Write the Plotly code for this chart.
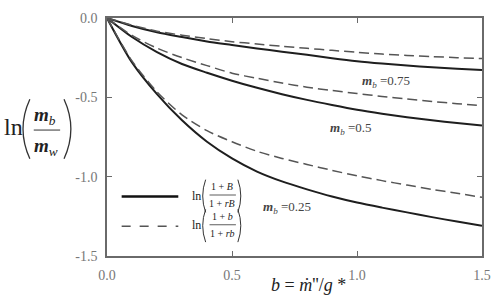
import plotly.graph_objects as go

# ---- data ----
b_vals = [0.0, 0.1, 0.2, 0.3, 0.4, 0.5, 0.6, 0.7, 0.8, 0.9, 1.0, 1.1, 1.2, 1.3, 1.4, 1.5]

solid_075 = [0.0, -0.05, -0.09, -0.12, -0.148, -0.17, -0.192, -0.212, -0.232, -0.253, -0.272, -0.287, -0.300, -0.311, -0.320, -0.328]
dashed_075 = [0.0, -0.045, -0.083, -0.108, -0.13, -0.149, -0.164, -0.178, -0.191, -0.204, -0.216, -0.227, -0.236, -0.243, -0.250, -0.256]

solid_050 = [0.0, -0.12, -0.215, -0.29, -0.345, -0.395, -0.44, -0.48, -0.516, -0.548, -0.578, -0.603, -0.625, -0.645, -0.662, -0.678]
dashed_050 = [0.0, -0.11, -0.19, -0.25, -0.30, -0.348, -0.38, -0.41, -0.436, -0.457, -0.476, -0.494, -0.511, -0.526, -0.540, -0.553]

solid_025 = [0.0, -0.28, -0.48, -0.645, -0.78, -0.885, -0.968, -1.03, -1.08, -1.125, -1.163, -1.195, -1.225, -1.255, -1.283, -1.31]
dashed_025 = [0.0, -0.27, -0.465, -0.61, -0.71, -0.78, -0.84, -0.885, -0.923, -0.96, -0.995, -1.025, -1.053, -1.08, -1.105, -1.13]

x_ticks = [0.0, 0.5, 1.0, 1.5]
x_tick_text = ["0.0", "0.5", "1.0", "1.5"]
y_ticks = [0.0, -0.5, -1.0, -1.5]
y_tick_text = ["0.0", "-0.5", "-1.0", "-1.5"]

curve_labels = ["=0.75", "=0.5", "=0.25"]

# ---- layout geometry (pixels) ----
W, H = 502, 298
L, R, T, B = 107, 11, 16, 42
PW, PH = W - L - R, H - T - B


def px(x):
    return (x - L) / PW


def py(y):
    return (H - B - y) / PH


SERIF = "Liberation Serif, DejaVu Serif, Times New Roman, serif"
SOLID_C = "#1e1e1e"
DASH_C = "#555555"
AX_C = "#6a6a6a"

fig = go.Figure()

for ys in [solid_075, solid_050, solid_025]:
    fig.add_trace(go.Scatter(x=b_vals, y=ys, mode="lines",
                             line=dict(color=SOLID_C, width=2, shape="spline", smoothing=0.8),
                             showlegend=False, hoverinfo="skip"))
for ys in [dashed_075, dashed_050, dashed_025]:
    fig.add_trace(go.Scatter(x=b_vals, y=ys, mode="lines",
                             line=dict(color=DASH_C, width=1.5, dash="10px,5px", shape="spline", smoothing=0.8),
                             showlegend=False, hoverinfo="skip"))

annotations = []
shapes = []


def text(x, y, t, size, color="#222", xanchor="center", yanchor="middle"):
    annotations.append(dict(x=px(x), y=py(y), xref="paper", yref="paper", text=t,
                            showarrow=False, xanchor=xanchor, yanchor=yanchor,
                            font=dict(family=SERIF, size=size, color=color)))


def paren(x_end, x_ctrl, y0, y1, width=1.3, color="#333"):
    ym = (y0 + y1) / 2
    shapes.append(dict(type="path", xref="paper", yref="paper",
                       path=f"M {px(x_end)},{py(y0)} Q {px(x_ctrl)},{py(ym)} {px(x_end)},{py(y1)}",
                       line=dict(color=color, width=width)))


def hline(x0, x1, y, width=1, color="#333", dash="solid"):
    shapes.append(dict(type="line", xref="paper", yref="paper",
                       x0=px(x0), x1=px(x1), y0=py(y), y1=py(y),
                       line=dict(color=color, width=width, dash=dash)))


# y-axis title: ln( m_b / m_w )
text(11, 126, "ln", 24)
paren(28, 14, 98, 158)
text(44, 115, "<b><i>m</i></b><sub><i>b</i></sub>", 19)
hline(32, 59, 129, width=1)
text(45, 146, "<b><i>m</i></b><sub><i>w</i></sub>", 19)
paren(63, 77, 98, 158)

# x-axis title
text(313, 285, "<i>b</i> = <i>\u1e41</i>''/<i>g</i> *", 18)

# curve labels
text(393, 80, "<b><i>m</i></b><sub><i>b</i></sub> " + curve_labels[0], 13, color="#444")
text(357, 127, "<b><i>m</i></b><sub><i>b</i></sub> " + curve_labels[1], 13, color="#444")
text(291, 207, "<b><i>m</i></b><sub><i>b</i></sub> " + curve_labels[2], 13, color="#444")

# legend
hline(122, 180, 196, width=2.5, color="#111")
hline(122, 180, 226, width=1.5, color=DASH_C, dash="dash")
for dy, num, den in [(0, "1 + <i>B</i>", "1 + <i>rB</i>"), (30, "1 + <i>b</i>", "1 + <i>rb</i>")]:
    text(199, 195 + dy, "ln", 12)
    paren(208, 202, 179 + dy, 212 + dy, width=1)
    text(225, 186 + dy, num, 10)
    hline(212, 239, 194.5 + dy, width=0.8)
    text(225, 203.5 + dy, den, 10)
    paren(241, 247, 179 + dy, 212 + dy, width=1)

axis_common = dict(showline=True, linecolor=AX_C, linewidth=1.5, mirror="ticks",
                   ticks="inside", ticklen=5, tickcolor=AX_C, tickwidth=1.2,
                   showgrid=False, zeroline=False,
                   tickfont=dict(family=SERIF, size=14, color="#777"))

fig.update_layout(
    width=W, height=H,
    margin=dict(l=L, r=R, t=T, b=B),
    paper_bgcolor="white", plot_bgcolor="white",
    font=dict(family=SERIF),
    xaxis=dict(range=[0, 1.5], tickvals=x_ticks, ticktext=x_tick_text, ticklabelstandoff=5, **axis_common),
    yaxis=dict(range=[-1.5, 0], tickvals=y_ticks, ticktext=y_tick_text, ticklabelstandoff=5, **axis_common),
    annotations=annotations,
    shapes=shapes,
)

fig.write_html("out.html")
